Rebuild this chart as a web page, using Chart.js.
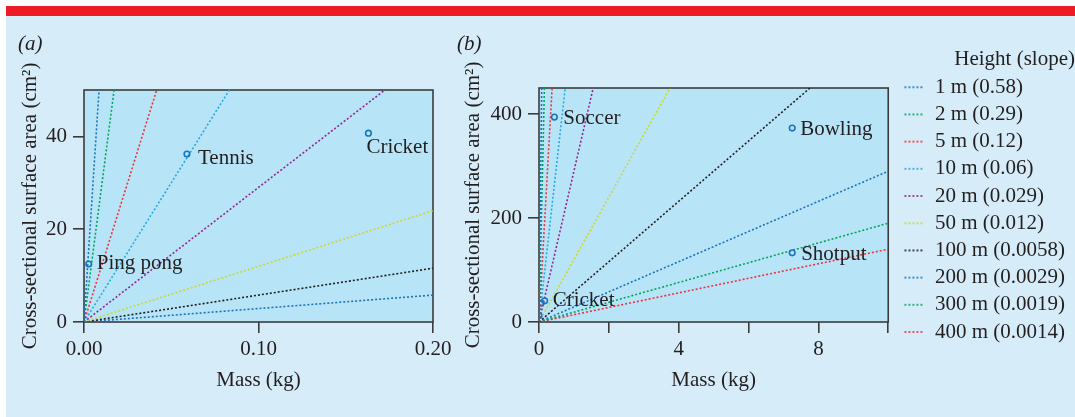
<!DOCTYPE html>
<html lang="en">
<head>
<meta charset="UTF-8" />
<title>Cross-sectional surface area vs mass</title>
<script src="https://cdn.jsdelivr.net/npm/chart.js"></script>
<style>
  html, body { margin: 0; padding: 0; background: #fff; overflow: hidden; }
  .stripe { position: absolute; left: 6px; top: 6px; width: 1069px; height: 10px; background: #ed1c24; }
  .panel { position: absolute; left: 6px; top: 16px; width: 1069px; height: 401px; background: #d6ecf9; }
  #chartA { position: absolute; left: 6px; top: 16px; width: 460px; height: 401px; }
  #chartB { position: absolute; left: 445px; top: 16px; width: 630px; height: 401px; }
</style>
</head>
<body>
<div class="stripe"></div>
<div class="panel"></div>
<canvas id="chartA" width="460" height="401"></canvas>
<canvas id="chartB" width="630" height="401"></canvas>

<script>
  // drop heights and their slopes (m^2 per kg)
  const heights = ['1 m', '2 m', '5 m', '10 m', '20 m', '50 m', '100 m', '200 m', '300 m', '400 m'];
  const slopes = [0.58, 0.29, 0.12, 0.06, 0.029, 0.012, 0.0058, 0.0029, 0.0019, 0.0014];
  const lineColors = ['#1b75bc', '#00a65a', '#ed3238', '#27aae1', '#92278f', '#cbd92c', '#231f20', '#1b75bc', '#00a65a', '#ed3238'];

  // balls: mass (kg) and cross-sectional area (cm^2)
  const balls = ['Ping pong', 'Tennis', 'Cricket', 'Soccer', 'Bowling', 'Shotput'];
  const ballMass = [0.0027, 0.059, 0.163, 0.44, 7.25, 7.25];
  const ballArea = [12.5, 36.2, 40.7, 394, 373, 133];

  const ink = '#231f20';
  const serif = '"Liberation Serif", "Times New Roman", serif';
  Chart.defaults.font.family = serif;
  Chart.defaults.font.size = 21;
  Chart.defaults.font.lineHeight = 1;
  Chart.defaults.color = ink;
  Chart.defaults.animation = false;

  function dotSwatch(color) {
    const c = document.createElement('canvas');
    c.width = 30; c.height = 6;
    const g = c.getContext('2d');
    g.strokeStyle = color;
    g.lineWidth = 1.6;
    g.setLineDash([2, 2]);
    g.beginPath(); g.moveTo(10, 3); g.lineTo(28, 3); g.stroke();
    return c;
  }
  const swatches = lineColors.map(dotSwatch);

  const plotFrame = {
    id: 'plotFrame',
    beforeDraw(chart) {
      const {ctx, chartArea: a} = chart;
      ctx.save();
      ctx.fillStyle = '#b8e4f8';
      ctx.fillRect(a.left, a.top, a.width, a.height);
      ctx.restore();
    },
    beforeDatasetsDraw(chart) {
      const {ctx, chartArea: a} = chart;
      ctx.save();
      ctx.strokeStyle = '#3b3b3b';
      ctx.lineWidth = 1.6;
      ctx.strokeRect(a.left, a.top, a.width, a.height);
      ctx.restore();
    }
  };

  const ballLabels = {
    id: 'ballLabels',
    afterDatasetsDraw(chart, args, opts) {
      const {ctx} = chart;
      const meta = chart.getDatasetMeta(0);
      ctx.save();
      ctx.font = '21px ' + serif;
      ctx.fillStyle = ink;
      ctx.textBaseline = 'middle';
      meta.data.forEach((pt, i) => {
        const off = opts.place[balls[i]];
        if (!off) return;
        ctx.fillText(balls[i], pt.x + off[0], pt.y + off[1]);
      });
      ctx.restore();
    }
  };

  const tickGrid = { display: true, drawOnChartArea: false, drawTicks: true, tickLength: 11, color: '#3b3b3b', lineWidth: 1.6 };

  function buildChart(id, p) {
    const lineSets = slopes.slice(0, p.lines).map((s, i) => ({
      label: heights[i] + ' (' + s + ')',
      data: [{x: 0, y: 0}, {x: p.xMax, y: s * 1e4 * p.xMax}],
      showLine: true,
      pointRadius: 0,
      borderColor: lineColors[i],
      borderWidth: 1.6,
      borderDash: [2, 2],
      order: 1
    }));
    const ballSet = {
      label: 'Balls',
      data: ballMass.slice(0, p.balls).map((m, i) => ({x: m, y: ballArea[i]})),
      pointRadius: 2.8,
      borderWidth: 1.6,
      borderColor: '#1b75bc',
      backgroundColor: 'rgba(0,0,0,0)',
      order: 0
    };

    return new Chart(document.getElementById(id), {
      type: 'scatter',
      data: { datasets: [ballSet].concat(lineSets) },
      plugins: [plotFrame, ballLabels],
      options: {
        responsive: false,
        events: [],
        layout: { padding: { left: 12, top: 10, right: p.padRight, bottom: 0 } },
        scales: {
          x: {
            type: 'linear', min: 0, max: p.xMax,
            ticks: { stepSize: p.xStep, padding: 6, maxRotation: 0, autoSkip: false, callback: p.xFmt },
            grid: tickGrid,
            border: { display: false },
            title: { display: true, text: 'Mass (kg)', padding: { top: 0, bottom: 26 } },
            afterFit(s) { s.height = 95; }
          },
          y: {
            type: 'linear', min: 0, max: p.yMax,
            ticks: { stepSize: p.yStep, padding: 6 },
            afterBuildTicks(s) { s.ticks = s.ticks.filter(t => t.value % p.yStep === 0); },
            grid: tickGrid,
            border: { display: false },
            title: { display: true, text: 'Cross-sectional surface area (cm²)', padding: { top: p.yTitlePad, bottom: 0 } },
            afterFit(s) { s.width = p.yWidth; }
          }
        },
        plugins: {
          tooltip: { enabled: false },
          title: {
            display: true, text: p.tag, align: 'start',
            font: { style: 'italic', weight: 'normal', size: 21 },
            padding: { top: 8, bottom: p.tagGap }
          },
          legend: {
            display: p.legend,
            position: 'right',
            align: 'start',
            maxWidth: 240,
            title: { display: true, text: 'Height (slope)', position: 'end', padding: { top: 22.5, bottom: 1 } },
            labels: {
              usePointStyle: true,
              pointStyleWidth: 30,
              padding: 6.2,
              generateLabels(chart) {
                return chart.data.datasets.slice(1).map((d, i) => ({
                  text: d.label,
                  pointStyle: swatches[i],
                  fillStyle: 'rgba(0,0,0,0)',
                  strokeStyle: 'rgba(0,0,0,0)',
                  lineWidth: 0,
                  fontColor: ink,
                  hidden: false,
                  datasetIndex: i + 1
                }));
              }
            }
          },
          ballLabels: { place: p.place }
        }
      }
    });
  }

  buildChart('chartA', {
    tag: '(a)', tagGap: 35,
    lines: 8, balls: 3,
    xMax: 0.2, xStep: 0.1, xFmt: v => v.toFixed(2),
    yMax: 50, yStep: 20,
    yWidth: 66, yTitlePad: 2, padRight: 33,
    legend: false,
    place: { 'Ping pong': [8, -1], 'Tennis': [11, 4], 'Cricket': [-2, 14] }
  });

  buildChart('chartB', {
    tag: '(b)', tagGap: 33,
    lines: 10, balls: 6,
    xMax: 10, xStep: 2, xFmt: v => (v % 4 === 0 && v < 10 ? String(v) : ''),
    yMax: 450, yStep: 200,
    yWidth: 82, yTitlePad: 6, padRight: 0,
    legend: true,
    place: { 'Cricket': [8, 0], 'Soccer': [9, 1], 'Bowling': [8, 1], 'Shotput': [9, 2] }
  });
</script>
</body>
</html>
